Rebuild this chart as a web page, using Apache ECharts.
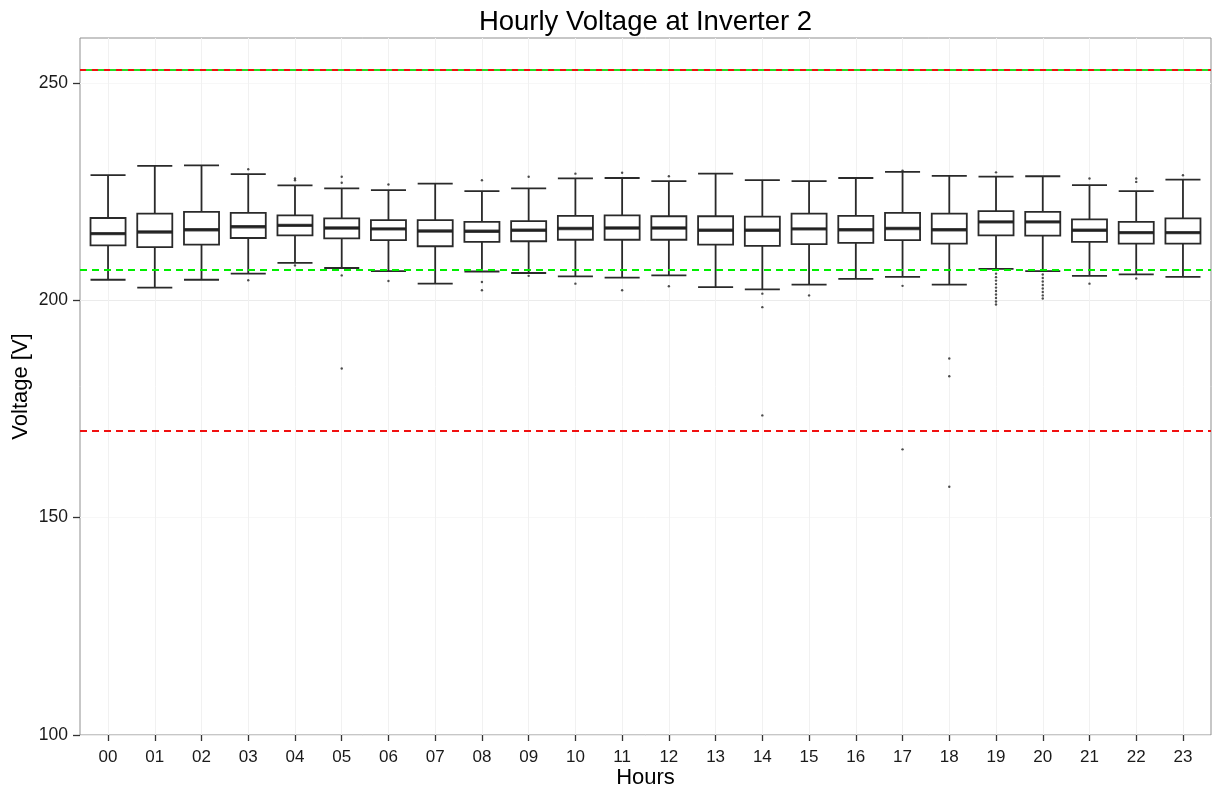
<!DOCTYPE html>
<html><head><meta charset="utf-8">
<script src="https://cdn.jsdelivr.net/npm/echarts@6/dist/echarts.min.js"></script>
<style>html,body{margin:0;padding:0;background:#fff}#c{width:1213px;height:790px}</style>
</head><body><div id="c"></div>
<script>
// ---- data ----
const hours = ['00','01','02','03','04','05','06','07','08','09','10','11','12','13','14','15','16','17','18','19','20','21','22','23'];
const whiskerLow  = [204.7,202.9,204.7,206.1,208.6,207.4,206.7,203.8,206.6,206.25,205.5,205.2,205.7,203.0,202.5,203.6,204.9,205.35,203.6,207.2,206.7,205.6,205.95,205.35];
const quartile1   = [212.6,212.2,212.8,214.3,214.9,214.2,213.8,212.4,213.4,213.55,213.9,213.9,213.9,212.8,212.5,212.9,213.2,213.8,213.0,214.9,214.85,213.4,213.0,213.0];
const medians     = [215.3,215.7,216.2,216.9,217.2,216.6,216.4,215.9,215.85,216.1,216.5,216.6,216.6,216.1,216.1,216.4,216.2,216.5,216.2,218.0,218.0,216.1,215.55,215.55];
const quartile3   = [218.9,219.9,220.3,220.1,219.5,218.8,218.4,218.4,218.0,218.2,219.4,219.5,219.3,219.3,219.2,219.9,219.4,220.1,219.9,220.5,220.3,218.6,218.0,218.8];
const whiskerHigh = [228.75,230.9,231.0,229.0,226.4,225.7,225.3,226.8,225.1,225.7,228.0,228.1,227.4,229.1,227.6,227.4,228.1,229.5,228.6,228.4,228.5,226.45,225.1,227.75];
const outlierHour = [
  '03','03',
  '04','04','04',
  '05','05','05','05',
  '06','06',
  '08','08','08',
  '09','09',
  '10','10',
  '11','11',
  '12','12',
  '14','14','14',
  '15',
  '17','17','17',
  '18','18','18',
  '19','19','19','19','19','19','19','19','19','19','19',
  '20','20','20','20','20','20','20','20',
  '21','21',
  '22','22','22',
  '23'];
const outlierValue = [
  230.1,204.6,
  227.6,228.0,208.0,
  227.0,228.4,205.7,184.3,
  226.6,204.4,
  227.6,204.2,202.3,
  228.4,205.6,
  229.1,203.8,
  229.3,202.3,
  228.5,203.2,
  201.5,198.4,173.5,
  201.1,
  229.8,203.3,165.7,
  186.6,182.5,157.1,
  229.4,206.1,205.3,204.5,203.7,202.9,202.1,201.3,200.5,199.7,199.0,
  205.9,205.1,204.3,203.5,202.7,201.9,201.1,200.4,
  228.0,203.8,
  228.0,227.2,205.0,
  228.75];
const upperLimit = 253;
const lowerLimitRed = 170;
const lowerLimitGreen = 207;
const yMin = 100, yMax = 260.3;
const yLabelValues = [100,150,200,250];

// ---- layout ----
const PL = 80, PT = 38, PW = 1131, PH = 697;
const band = PW / (hours.length + 0.2);
const inset = 0.1 * band;
const FONT = 'Liberation Sans, Arial, Helvetica, sans-serif';

const outliers = outlierHour.map((h, i) => [h, outlierValue[i]]);
const boxData = hours.map((h, i) => [whiskerLow[i], quartile1[i], medians[i], quartile3[i], whiskerHigh[i]]);
const medianData = hours.map((h, i) => [h, medians[i]]);

const chart = echarts.init(document.getElementById('c'), null, {renderer: 'canvas'});
chart.setOption({
  animation: false,
  backgroundColor: '#fff',
  grid: [
    {left: PL + inset, top: PT, width: band * hours.length, height: PH},
    {left: PL, top: PT, width: PW, height: PH, show: true, borderColor: '#8f8f8f', borderWidth: 1, backgroundColor: 'transparent'}
  ],
  xAxis: [
    {type: 'category', gridIndex: 0, data: hours, boundaryGap: true,
     axisLine: {show: false},
     axisTick: {show: true, alignWithLabel: true, length: 6, lineStyle: {color: '#333', width: 1.3}},
     axisLabel: {fontSize: 17, color: '#1a1a1a', margin: 14, fontFamily: FONT},
     splitLine: {show: false}},
    {type: 'value', gridIndex: 1, min: -0.6, max: hours.length - 0.4,
     axisLine: {show: false, onZero: false},
     axisTick: {show: false, customValues: hours.map((h, i) => i)},
     axisLabel: {show: false, customValues: hours.map((h, i) => i)},
     splitLine: {show: true, lineStyle: {color: '#f1f1f1', width: 1}}}
  ],
  yAxis: [
    {type: 'value', gridIndex: 0, min: yMin, max: yMax, show: false},
    {type: 'value', gridIndex: 1, min: yMin, max: yMax, interval: 25,
     axisLine: {show: false, onZero: false},
     axisTick: {show: true, length: 7, customValues: yLabelValues, lineStyle: {color: '#333', width: 1.3}},
     axisLabel: {customValues: yLabelValues, fontSize: 17.5, color: '#1a1a1a', margin: 12, fontFamily: FONT},
     splitLine: {show: true, lineStyle: {color: ['#ebebeb', '#f7f7f7'], width: 1}}}
  ],
  graphic: [
    {type: 'text', x: PL + PW / 2, y: 22, style: {text: 'Hourly Voltage at Inverter 2', fontSize: 27.5, fontFamily: FONT, fill: '#000', textAlign: 'center', align: 'center', textVerticalAlign: 'middle', verticalAlign: 'middle'}},
    {type: 'text', x: PL + PW / 2, y: 778, style: {text: 'Hours', fontSize: 22, fontFamily: FONT, fill: '#000', textAlign: 'center', align: 'center', textVerticalAlign: 'middle', verticalAlign: 'middle'}},
    {type: 'text', x: 21, y: PT + PH / 2, rotation: Math.PI / 2, style: {text: 'Voltage [V]', fontSize: 22, fontFamily: FONT, fill: '#000', textAlign: 'center', align: 'center', textVerticalAlign: 'middle', verticalAlign: 'middle'}}
  ],
  series: [
    {type: 'boxplot', xAxisIndex: 0, yAxisIndex: 0, data: boxData, boxWidth: [band * 0.75, band * 0.75],
     itemStyle: {color: '#fff', borderColor: '#2a2a2a', borderWidth: 1.8}, z: 3, silent: true},
    {type: 'scatter', xAxisIndex: 0, yAxisIndex: 0, data: medianData, symbol: 'rect', symbolSize: [band * 0.75, 3.4],
     itemStyle: {color: '#1e1e1e'}, z: 4, silent: true},
    {type: 'scatter', xAxisIndex: 0, yAxisIndex: 0, data: outliers, symbol: 'circle', symbolSize: 2.4,
     itemStyle: {color: '#222'}, z: 4, silent: true},
    {type: 'line', xAxisIndex: 1, yAxisIndex: 1, data: [], silent: true,
     markLine: {silent: true, symbol: ['none', 'none'], label: {show: false}, z: 10, animation: false,
       data: [
         {yAxis: upperLimit, lineStyle: {color: '#f01010', type: [6, 6], width: 1.9}},
         {yAxis: upperLimit, lineStyle: {color: '#22dd22', type: [6, 6], dashOffset: 6, width: 1.9}},
         {yAxis: lowerLimitGreen, lineStyle: {color: '#00ee00', type: [7, 5], width: 1.9}},
         {yAxis: lowerLimitRed, lineStyle: {color: '#f01010', type: [7, 5], width: 1.9}}
       ]}}
  ]
});
</script>
</body></html>
